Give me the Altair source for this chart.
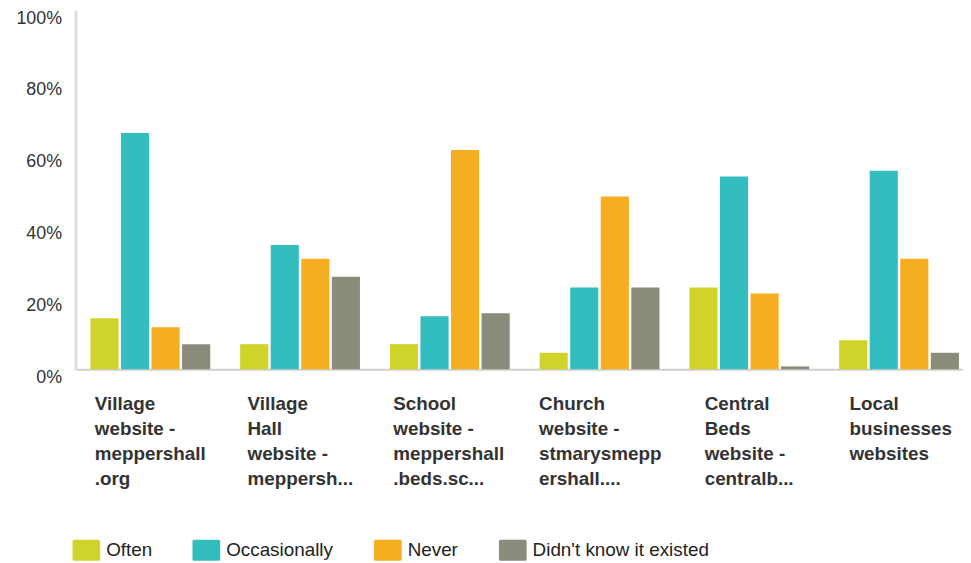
import altair as alt
import pandas as pd

categories = [
    "Village|website -|meppershall|.org",
    "Village|Hall|website -|meppersh...",
    "School|website -|meppershall|.beds.sc...",
    "Church|website -|stmarysmepp|ershall....",
    "Central|Beds|website -|centralb...",
    "Local|businesses|websites",
]
series = ["Often", "Occasionally", "Never", "Didn't know it existed"]
often = [14.2, 7.0, 7.0, 4.6, 22.8, 8.1]
occasionally = [65.8, 34.6, 14.8, 22.8, 53.7, 55.3]
never = [11.7, 30.8, 61.1, 48.1, 21.1, 30.8]
didnt_know = [7.0, 25.8, 15.6, 22.8, 0.8, 4.6]
colors = ["#d0d42a", "#34bdbf", "#f6ae20", "#8a8b7a"]
label_offsets = [-56, -53, -57, -61, -45, -50]

rows = []
for s, vals in zip(series, [often, occasionally, never, didnt_know]):
    for c, v in zip(categories, vals):
        rows.append({"cat": c, "series": s, "value": v / 100.0})
df = pd.DataFrame(rows)

font = "Liberation Sans, Arial, sans-serif"

cond = [{"test": f"datum.value == '{c}'", "value": o} for c, o in zip(categories, label_offsets)]

rounded_rect = (
    "M-1.18,-1 L1.18,-1 Q1.33,-1 1.33,-0.85 L1.33,0.85 Q1.33,1 1.18,1 "
    "L-1.18,1 Q-1.33,1 -1.33,0.85 L-1.33,-0.85 Q-1.33,-1 -1.18,-1 Z"
)

chart = alt.Chart(df).mark_bar().encode(
    x=alt.X(
        "cat:N",
        sort=categories,
        title=None,
        scale=alt.Scale(range=[0, 906], paddingInner=0.2, paddingOuter=0.1),
        axis=alt.Axis(
            labelAngle=0,
            labelExpr="split(datum.label, '|')",
            labelAlign="left",
            labelBaseline="alphabetic",
            labelOffset={"condition": cond, "value": -50},
            labelFont=font,
            labelFontSize=19,
            labelFontWeight="bold",
            labelColor="#333333",
            labelLineHeight=25,
            labelPadding=41,
            labelLimit=0,
            ticks=False,
            domainColor="#cfcfcf",
            domainWidth=2,
            grid=False,
        ),
    ),
    xOffset=alt.XOffset("series:N", sort=series, scale=alt.Scale(paddingInner=0.08)),
    y=alt.Y(
        "value:Q",
        title=None,
        scale=alt.Scale(domain=[0, 1], nice=False),
        axis=alt.Axis(
            values=[i / 10 for i in range(11)],
            format=".0%",
            labelExpr="round(datum.value * 100) % 20 == 0 ? datum.label : ''",
            labelFont=font,
            labelFontSize=18,
            labelColor="#333333",
            labelOffset=8,
            labelPadding=14,
            ticks=False,
            domainColor="#dcdcdc",
            domainWidth=3,
            gridColor="#ffffff",
            gridWidth=2,
        ),
    ),
    color=alt.Color(
        "series:N",
        sort=series,
        scale=alt.Scale(domain=series, range=colors),
        legend=alt.Legend(
            title=None,
            orient="none",
            direction="horizontal",
            legendX=0.5,
            legendY=534,
            symbolType=rounded_rect,
            symbolSize=441,
            symbolStrokeWidth=0,
            symbolOpacity=1,
            labelFont=font,
            labelFontSize=19,
            labelColor="#222222",
            labelOffset=9.5,
            labelLimit=400,
            columnPadding=40,
            padding=0,
        ),
    ),
).properties(
    width=895,
    height=362,
    autosize=alt.AutoSizeParams(type="none"),
    padding={"left": 68, "top": 0, "right": 0, "bottom": 192},
).configure_view(
    fill="#efefef",
    stroke=None,
).configure(background="#ffffff")

chart.save("out.html", embed_options={"renderer": "svg", "actions": False})
